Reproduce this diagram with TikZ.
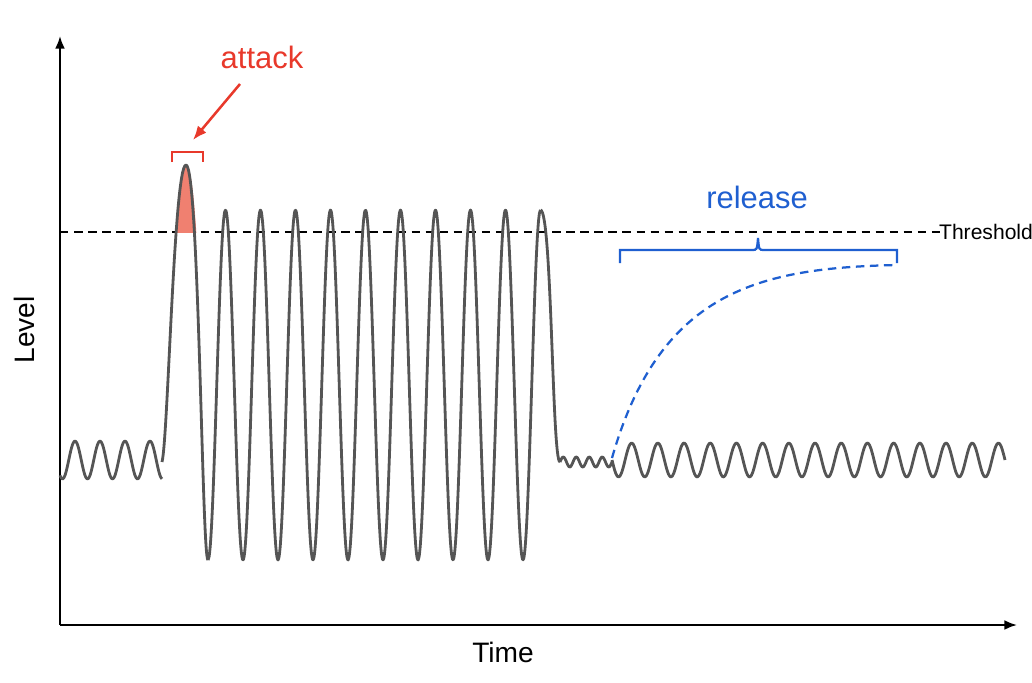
\documentclass[tikz,border=0pt]{standalone}
\usepackage{fontspec}
\setmainfont{Liberation Sans}
\definecolor{wavegray}{HTML}{555555}
\definecolor{attackred}{HTML}{E8392B}
\definecolor{attackfill}{HTML}{F08070}
\definecolor{releaseblue}{HTML}{1F5FD0}
\tikzset{
  wave/.style={wavegray,line width=2pt,line join=round},
  axis/.style={line width=1.4pt,-{Latex[length=9pt,width=7pt]}},
  tag/.style={font=\fontsize{20}{24}\selectfont}
}
\usetikzlibrary{arrows.meta,calc}
\begin{document}
\begin{tikzpicture}[x=0.025cm,y=-0.025cm]
    \useasboundingbox (0,0) rectangle (1032,683);

    % Axes
    \coordinate (O) at (60,625);
    \coordinate (xend) at (1017,625);
    \coordinate (yend) at (60,36);
    \draw[axis] (O) -- (xend);
    \draw[axis] (O) -- (yend);
    \node[tag] (time) at (503,652) {Time};
    \node[tag,rotate=90] (level) at (24,330) {Level};

    % Seuil
    \coordinate (thA) at (60,232);
    \coordinate (thB) at (940,232);
    \draw[black,line width=1.3pt,dash pattern=on 6pt off 4pt] (thA) -- (thB);
    \node[font=\fontsize{15}{18}\selectfont] (thr) at (986,232) {Threshold};

    % ---- Attaque : pic rempli au-dessus du seuil ----
    \begin{scope}
      \clip (0,0) rectangle (1032,232);
      \fill[attackfill] (166,460) .. controls (174,300) and (176,165) .. (186,165)
        .. controls (196,165) and (200,300) .. (206,460) -- cycle;
    \end{scope}

    % ---- Signal ----
    % petites oscillations avant
    \draw[wave] plot[domain=60:162,samples=80,smooth]
      (\x,{460-19*sin((\x-68.75)/25*360)});
    % premier pic
    \draw[wave] (162,462) .. controls (168,440) and (174,165) .. (186,165)
      .. controls (199,165) and (202,560) .. (208,560);
    % grandes oscillations
    \draw[wave] plot[domain=208:540.5,samples=300,smooth]
      (\x,{385+175*cos((\x-208)/35*360)});
    \draw[wave] (540.5,210) .. controls (552,210) and (552,462) .. (560,462);
    % ondulations apres la coupure
    \draw[wave] plot[domain=560:612,samples=60,smooth]
      (\x,{462-5*sin((\x-560)/13*360)});
    % oscillations moyennes
    \draw[wave] plot[domain=612:1005,samples=300,smooth]
      (\x,{460+17*sin((\x-612)/26.2*360)});

    % ---- Attack ----
    \coordinate (atL) at (172,152);
    \coordinate (atR) at (203,152);
    \draw[attackred,line width=1.6pt] ($(atL)+(0,10)$) -- (atL) -- (atR) -- ($(atR)+(0,10)$);
    \node[tag,attackred,font=\fontsize{22}{26}\selectfont] (attack) at (262,57) {attack};
    \coordinate (atTip) at (193,140);
    \draw[attackred,line width=1.8pt,-{Latex[length=10pt,width=8pt]}] (240,84) -- (atTip);

    % ---- Release ----
    \node[releaseblue,font=\fontsize{22}{26}\selectfont] (release) at (757,197) {release};
    \draw[releaseblue,line width=1.6pt] (620,263) -- (620,250) -- (752,250)
      .. controls (757,250) .. (758,238) .. controls (759,250) .. (764,250)
      -- (897,250) -- (897,263);
    \coordinate (relA) at (612,458);
    \coordinate (relB) at (897,265);
    \draw[releaseblue,line width=1.6pt,dash pattern=on 6pt off 4pt]
      (relA) .. controls (660,290) and (760,268) .. (relB);

\end{tikzpicture}
\end{document}
